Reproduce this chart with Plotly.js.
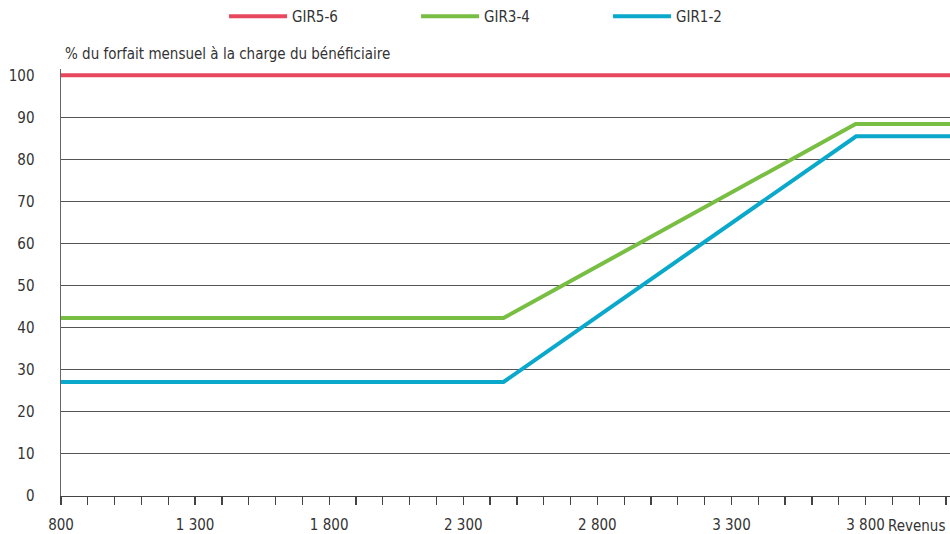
<!DOCTYPE html>
<html>
<head>
<meta charset="utf-8">
<script src="https://cdn.plot.ly/plotly-3.0.1.min.js"></script>
<style>html,body{margin:0;padding:0;background:#fff;}#chart{width:950px;height:534px;}</style>
</head>
<body>
<div id="chart"></div>
<script>
// Revenus (breakpoints)
const revenusGIR56 = [800, 4115];
const valuesGIR56 = [100, 100];
const revenusGIR34 = [800, 2450, 3763, 4115];
const valuesGIR34 = [42.3, 42.3, 88.4, 88.4];
const revenusGIR12 = [800, 2450, 3765, 4115];
const valuesGIR12 = [27.1, 27.1, 85.5, 85.5];
const seriesNames = ["GIR5-6", "GIR3-4", "GIR1-2"];
const tickValues = [];
for (let v = 800; v <= 4100; v += 100) tickValues.push(v);
const labelledTicks = {800: "800", 1300: "1 300", 1800: "1 800", 2300: "2 300", 2800: "2 800", 3300: "3 300", 3800: "3 800"};
const tickTexts = tickValues.map(v => labelledTicks[v] || "");
const yTitle = "% du forfait mensuel à la charge du bénéficiaire";
const xTitle = "Revenus";

const FONT = '"DejaVu Sans Condensed", "Liberation Sans Narrow", sans-serif';
const colors = ["#E8485E", "#78BE43", "#0AA8CA"];

const traces = [
  {x: revenusGIR56, y: valuesGIR56, name: seriesNames[0]},
  {x: revenusGIR34, y: valuesGIR34, name: seriesNames[1]},
  {x: revenusGIR12, y: valuesGIR12, name: seriesNames[2]}
].map((t, i) => Object.assign(t, {type: "scatter", mode: "lines", line: {color: colors[i], width: 4}}));

const layout = {
  width: 950, height: 534,
  margin: {l: 61, r: 0, t: 68.7, b: 37.5},
  paper_bgcolor: "#fff", plot_bgcolor: "#fff",
  font: {family: FONT, size: 15, color: "#333"},
  showlegend: true,
  legend: {orientation: "h", xref: "container", yref: "container", x: 0.539, xanchor: "center", y: 1, yanchor: "top",
           entrywidth: 119, entrywidthmode: "pixels", itemwidth: 58, font: {family: FONT, size: 15, color: "#333"}},
  xaxis: {range: [800, 4115], tickmode: "array", tickvals: tickValues, ticktext: tickTexts,
          showgrid: false, zeroline: false, showline: true, linecolor: "#444", linewidth: 1.3,
          ticks: "outside", ticklen: 8, tickcolor: "#444", tickwidth: 1.3, tickangle: 0, ticklabelstandoff: 7, fixedrange: true},
  yaxis: {range: [0, 101.5], tickmode: "array", tickvals: [0,10,20,30,40,50,60,70,80,90,100],
          showgrid: true, gridcolor: "#555", gridwidth: 1, zeroline: false,
          showline: true, linecolor: "#666", linewidth: 1.5, ticks: "", ticklabelstandoff: 22, fixedrange: true},
  annotations: [
    {text: yTitle, xref: "paper", yref: "paper", x: 0, y: 1, xanchor: "left", yanchor: "bottom", xshift: 2, yshift: 4, showarrow: false,
     font: {family: FONT, size: 15, color: "#333"}},
    {text: xTitle, xref: "paper", yref: "paper", x: 1, y: 0, xanchor: "right", yanchor: "top", xshift: -3, yshift: -19, showarrow: false,
     font: {family: FONT, size: 15, color: "#333"}}
  ]
};

Plotly.newPlot("chart", traces, layout, {displayModeBar: false, staticPlot: true});
</script>
</body>
</html>
